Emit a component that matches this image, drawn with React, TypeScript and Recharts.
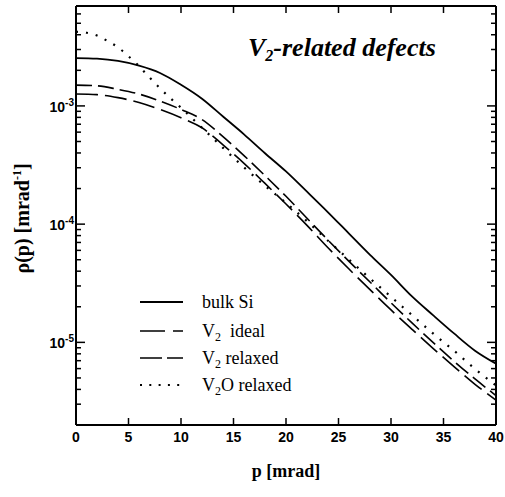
import React from "react";
import { LineChart, Line, XAxis, YAxis, Legend, ReferenceLine } from "recharts";

// momentum p [mrad]
const pCoarse = [0, 2, 4, 6, 8, 10, 12, 14, 16, 18, 20, 22, 24, 26, 28, 30, 32, 34, 36, 38, 40];
const pFine = [0, 1, 2, 3, 4, 5, 6, 7, 8, 9, 10, 12, 14, 16, 18, 20, 22, 24, 26, 28, 30, 32, 34, 36, 38, 40];

// rho(p) [mrad^-1]
const bulkSi = [
  2.54e-3, 2.51e-3, 2.4e-3, 2.19e-3, 1.9e-3, 1.51e-3, 1.15e-3, 8.13e-4, 5.75e-4, 3.98e-4, 2.79e-4,
  1.88e-4, 1.26e-4, 8.32e-5, 5.5e-5, 3.72e-5, 2.45e-5, 1.7e-5, 1.19e-5, 8.51e-6, 6.61e-6,
];
const v2Ideal = [
  1.5e-3, 1.48e-3, 1.38e-3, 1.26e-3, 1.1e-3, 9.33e-4, 7.67e-4, 5.5e-4, 3.8e-4, 2.57e-4, 1.72e-4,
  1.12e-4, 7.33e-5, 4.84e-5, 3.24e-5, 2.16e-5, 1.46e-5, 1.0e-5, 6.92e-6, 4.9e-6, 3.55e-6,
];
const v2Relaxed = [
  1.26e-3, 1.245e-3, 1.175e-3, 1.07e-3, 9.33e-4, 7.94e-4, 6.53e-4, 4.68e-4, 3.27e-4, 2.21e-4, 1.48e-4,
  9.77e-5, 6.31e-5, 4.17e-5, 2.79e-5, 1.88e-5, 1.29e-5, 8.91e-6, 6.24e-6, 4.42e-6, 3.24e-6,
];
const v2oRelaxed = [
  4.24e-3, 4.16e-3, 3.94e-3, 3.54e-3, 3.13e-3, 2.63e-3, 2.17e-3, 1.74e-3, 1.41e-3, 1.16e-3, 9.66e-4,
  6.53e-4, 4.42e-4, 3.02e-4, 2.11e-4, 1.51e-4, 1.06e-4, 7.24e-5, 5.01e-5, 3.47e-5, 2.43e-5, 1.7e-5,
  1.19e-5, 8.51e-6, 5.96e-6, 4.32e-6,
];

const xTicks = [0, 5, 10, 15, 20, 25, 30, 35, 40];
const yTicks = [
  3e-6, 4e-6, 5e-6, 6e-6, 7e-6, 8e-6, 9e-6, 1e-5, 2e-5, 3e-5, 4e-5, 5e-5, 6e-5, 7e-5, 8e-5, 9e-5,
  1e-4, 2e-4, 3e-4, 4e-4, 5e-4, 6e-4, 7e-4, 8e-4, 9e-4, 1e-3, 2e-3, 3e-3, 4e-3, 5e-3, 6e-3,
];
const xDomain = [0, 40];
const yDomain = [2e-6, 7e-3];

const SANS = "'Liberation Sans', Arial, sans-serif";
const SERIF = "'Liberation Serif', 'Times New Roman', serif";

// plot box size in px, to turn tick-mark lengths into axis units
const PLOT_W = 420;
const PLOT_H = 419;
const PX_PER_P = PLOT_W / (xDomain[1] - xDomain[0]);
const DECADE_PX = PLOT_H / Math.log10(yDomain[1] / yDomain[0]);

const rows = (ps: number[], vs: number[]) => ps.map((p, i) => ({ p, v: vs[i] }));

const series = [
  { key: "bulk", label: ["bulk Si"], data: rows(pCoarse, bulkSi), dash: undefined, width: 1.8, legendDash: undefined },
  { key: "ideal", label: ["V", "2", "\u00a0 ideal"], data: rows(pCoarse, v2Ideal), dash: "16 6", width: 1.6, legendDash: "25 8" },
  { key: "relaxed", label: ["V", "2", " relaxed"], data: rows(pCoarse, v2Relaxed), dash: "22 7", width: 1.6, legendDash: "22 5" },
  { key: "v2o", label: ["V", "2", "O relaxed"], data: rows(pFine, v2oRelaxed), dash: "2 8", width: 2.2, legendDash: "2 7.3" },
];

const isMajor = (v: number) => Math.abs(Math.log10(v) - Math.round(Math.log10(v))) < 1e-6;

// inward tick marks on all four sides, as short segments in axis units
type Seg = { id: string; pts: { x: number; y: number }[] };
const tickSegs: Seg[] = [];
yTicks.forEach((v) => {
  const dp = (isMajor(v) ? 9 : 5) / PX_PER_P;
  tickSegs.push({ id: `l${v}`, pts: [{ x: xDomain[0], y: v }, { x: xDomain[0] + dp, y: v }] });
  tickSegs.push({ id: `r${v}`, pts: [{ x: xDomain[1] - dp, y: v }, { x: xDomain[1], y: v }] });
});
const yStep = Math.pow(10, 7 / DECADE_PX);
xTicks.slice(1, -1).forEach((p) => {
  tickSegs.push({ id: `b${p}`, pts: [{ x: p, y: yDomain[0] }, { x: p, y: yDomain[0] * yStep }] });
  tickSegs.push({ id: `t${p}`, pts: [{ x: p, y: yDomain[1] / yStep }, { x: p, y: yDomain[1] }] });
});

function LeftLabel(props: any) {
  const { x, y, payload } = props;
  const v = payload.value;
  if (!isMajor(v)) return <text />;
  return (
    <text x={x - 2} y={y + 6} textAnchor="end" fontFamily={SANS} fontWeight="bold" fontSize={14} fill="#000">
      <tspan>10</tspan>
      <tspan fontSize={10} dy={-6}>{Math.round(Math.log10(v))}</tspan>
    </text>
  );
}

function BottomLabel(props: any) {
  const { x, y, payload } = props;
  return (
    <text x={x} y={y + 17} textAnchor="middle" fontFamily={SANS} fontWeight="bold" fontSize={14} fill="#000">
      {payload.value}
    </text>
  );
}

function YLabel(props: any) {
  const vb = props.viewBox || { x: 0, y: 6, height: 419 };
  const cy = vb.y + vb.height / 2 + 3;
  return (
    <text transform={`translate(29,${cy}) rotate(-90)`} textAnchor="middle" fontFamily={SERIF} fontWeight="bold" fontSize={20} fill="#000">
      <tspan>ρ(p) [mrad</tspan>
      <tspan fontSize={12} dy={-8}>-1</tspan>
      <tspan dy={8}>]</tspan>
    </text>
  );
}

function XLabel(props: any) {
  const vb = props.viewBox || { x: 76, y: 425, width: 420 };
  return (
    <text x={vb.x + vb.width / 2} y={vb.y + 52} textAnchor="middle" fontFamily={SERIF} fontWeight="bold" fontSize={18} fill="#000">
      p [mrad]
    </text>
  );
}

function LegendBox() {
  const rowY = [17, 46, 73, 100];
  return (
    <svg width={230} height={115}>
      {series.map((s, i) => (
        <g key={s.key}>
          <line x1={10} x2={53} y1={rowY[i]} y2={rowY[i]} stroke="#000" strokeWidth={s.width} strokeDasharray={s.legendDash} />
          <text x={72} y={rowY[i] + 6} fontFamily={SERIF} fontSize={18} fill="#000">
            <tspan>{s.label[0]}</tspan>
            {s.label.length > 1 && (
              <>
                <tspan fontSize={12} dy={4}>{s.label[1]}</tspan>
                <tspan dy={-4}>{s.label[2]}</tspan>
              </>
            )}
          </text>
        </g>
      ))}
    </svg>
  );
}

const frame = { stroke: "#000", strokeWidth: 2 };

export default function App() {
  return (
    <div style={{ position: "absolute", left: 0, top: 0, width: 505, height: 497 }}>
      <LineChart width={505} height={497} margin={{ top: 6, right: 9, left: 0, bottom: 0 }}>
        <XAxis dataKey="p" type="number" domain={xDomain} ticks={xTicks} interval={0}
          height={72} tickSize={0} tickMargin={0} tickLine={false} tick={BottomLabel} axisLine={frame}
          label={(p: any) => <XLabel {...p} />} />
        <YAxis type="number" scale="log" domain={yDomain} allowDataOverflow ticks={yTicks} interval={0}
          width={76} tickSize={0} tickMargin={0} tickLine={false} tick={LeftLabel} axisLine={frame}
          label={(p: any) => <YLabel {...p} />} />
        <ReferenceLine y={yDomain[1]} stroke="#000" strokeWidth={2} ifOverflow="visible" />
        <ReferenceLine x={xDomain[1]} stroke="#000" strokeWidth={2} ifOverflow="visible" />
        {tickSegs.map((s) => (
          <ReferenceLine key={s.id} segment={s.pts} stroke="#000" strokeWidth={1.5} ifOverflow="visible" />
        ))}
        {series.map((s) => (
          <Line
            key={s.key}
            data={s.data}
            dataKey="v"
            type="monotone"
            stroke="#000"
            strokeWidth={s.width}
            strokeDasharray={s.dash}
            dot={false}
            activeDot={false}
            isAnimationActive={false}
          />
        ))}
        <Legend
          layout="vertical"
          align="center"
          verticalAlign="middle"
          wrapperStyle={{ position: "absolute", left: 130, top: 285, width: 230 }}
          content={() => <LegendBox />}
        />
      </LineChart>
      <div
        style={{
          position: "absolute",
          left: 248,
          top: 35,
          fontFamily: SERIF,
          fontWeight: "bold",
          fontStyle: "italic",
          fontSize: 26,
          lineHeight: "26px",
          whiteSpace: "nowrap",
          color: "#000",
        }}
      >
        V<sub style={{ fontSize: 16, verticalAlign: "-5px", lineHeight: 0 }}>2</sub>-related defects
      </div>
    </div>
  );
}
